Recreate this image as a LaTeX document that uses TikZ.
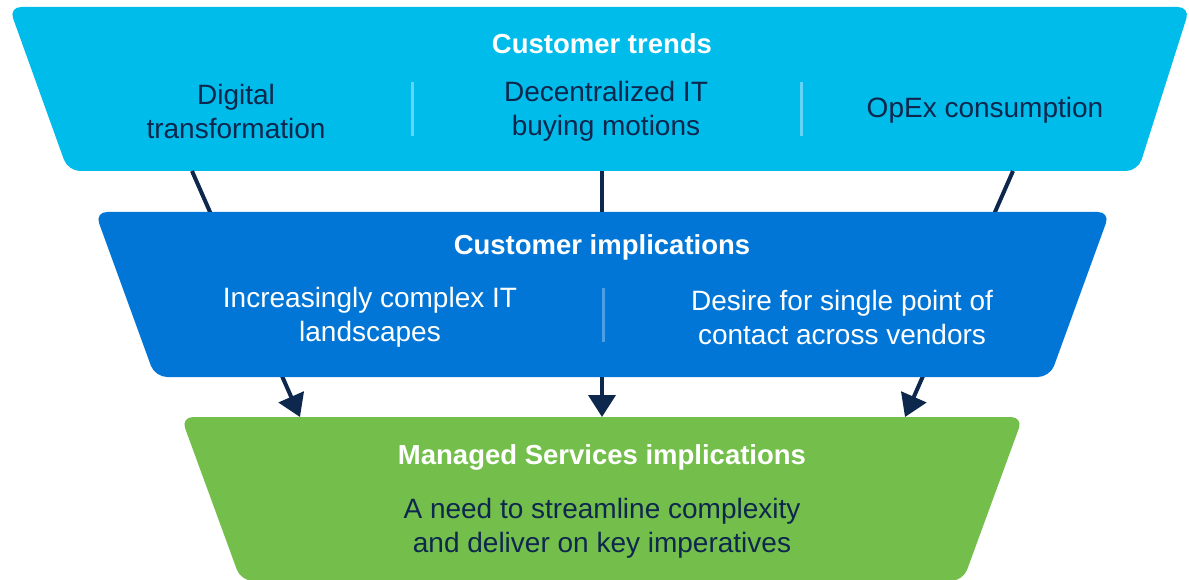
\documentclass[tikz,border=0pt]{standalone}
\usepackage{fontspec}
\setmainfont{Liberation Sans}
\usetikzlibrary{arrows.meta}

\definecolor{trendcyan}{HTML}{00BCEB}
\definecolor{trendsep}{HTML}{63D3F7}
\definecolor{implblue}{HTML}{0176D6}
\definecolor{implsep}{HTML}{4B9FE6}
\definecolor{msgreen}{HTML}{74BF4B}
\definecolor{navy}{HTML}{0D274D}

\begin{document}
\begin{tikzpicture}[x=1pt,y=-1pt,
    band/.style={rounded corners=12pt},
    head/.style={font=\bfseries\fontsize{27.5}{32}\selectfont,text=white},
    body/.style={font=\fontsize{28}{34}\selectfont,align=center},
    sep/.style={line width=3pt},
    flow/.style={draw=navy,line width=4pt,-{Triangle[width=27pt,length=22pt]}}]
        \useasboundingbox (0,0) rectangle (1189,580);
        \fill[trendcyan,band] (9,7) -- (1190,7) -- (1138,171) -- (68,171) -- cycle ;
        \foreach \x in {412,801}{
            \draw[sep,trendsep] (\x,82) -- (\x,136) ;
        }
        \node[head] (trends) at (602,44) {Customer trends};
        \node[body,text=navy] (digital) at (236,111) {Digital\\transformation};
        \node[body,text=navy] (decentral) at (606,111.5) {Decentralized IT\\buying motions};
        \node[body,text=navy] (opex) at (985,110) {OpEx consumption};

        \coordinate (t1) at (192,171);
        \coordinate (t2) at (602,171);
        \coordinate (t3) at (1013,171);
        \coordinate (g1) at (300,417);
        \coordinate (g2) at (602,417);
        \coordinate (g3) at (905,417);
        \foreach \i in {1,2,3}{
            \draw[flow] (t\i) -- (g\i) ;
        }

        \fill[implblue,band] (95,212) -- (1110,212) -- (1050,377) -- (155,377) -- cycle ;
        \draw[sep,implsep] (603,288) -- (603,342) ;
        \node[head] (implications) at (602,247) {Customer implications};
        \node[body,text=white] (complex) at (370,317) {Increasingly complex IT\\landscapes};
        \node[body,text=white] (contact) at (842,317) {Desire for single point of\\contact across vendors};

        \fill[msgreen,band] (181,417) -- (1023,417) -- (963,581) -- (241,581) -- cycle ;
        \node[head] (managed) at (602,457) {Managed Services implications};
        \node[body,text=navy] (streamline) at (602,528) {A need to streamline complexity\\and deliver on key imperatives};
    \end{tikzpicture}
\end{document}
